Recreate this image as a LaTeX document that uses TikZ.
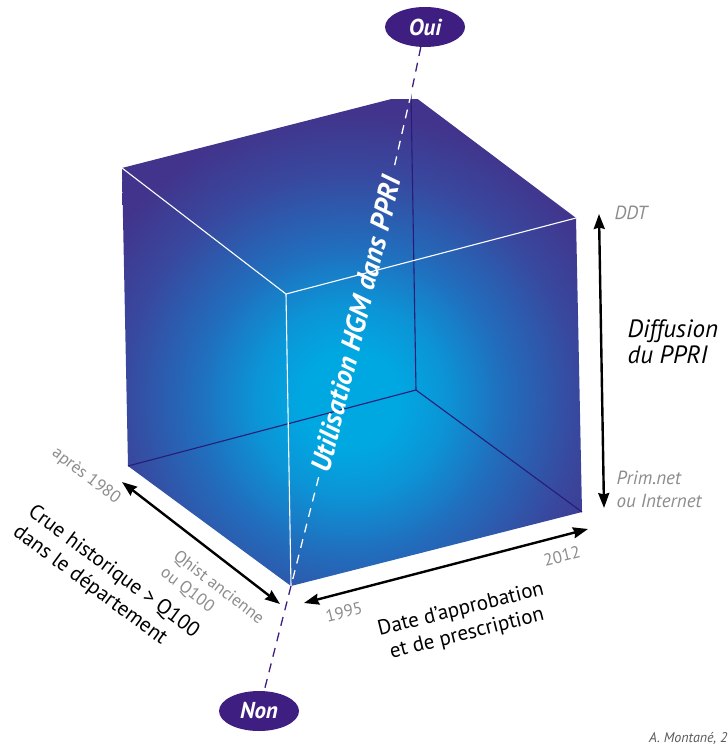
\documentclass[tikz,border=0pt]{standalone}
\usepackage{fontspec}
\setmainfont{PT Sans}
\usetikzlibrary{arrows.meta,shapes.geometric}

\definecolor{glowcore}{RGB}{0,168,226}
\definecolor{glowinner}{RGB}{12,148,214}
\definecolor{glowmid}{RGB}{34,108,188}
\definecolor{glowdeep}{RGB}{56,72,158}
\definecolor{glowedge}{RGB}{66,52,140}
\definecolor{violetaxis}{RGB}{62,30,128}
\definecolor{edgedark}{RGB}{40,28,118}
\definecolor{labelgray}{RGB}{140,140,140}

% the middle 50bp square of the shading covers the shaded path
\pgfdeclareradialshading{cubeglow}{\pgfpoint{0bp}{0bp}}{%
  color(0bp)=(glowcore); color(4bp)=(glowcore); color(8bp)=(glowinner);
  color(13bp)=(glowmid); color(19bp)=(glowdeep); color(24bp)=(glowedge);
  color(50bp)=(glowedge)}

\begin{document}
\begin{tikzpicture}[x=1pt, y=-1pt,
    answer/.style={
      ellipse,
      fill=violetaxis,
      text=white,
      font=\bfseries\itshape\fontsize{23}{23}\selectfont,
      minimum width=80pt,
      minimum height=40pt,
      inner sep=0pt
    },
    axisdash/.style={
      draw=violetaxis,
      line width=1.3pt,
      dash pattern=on 9pt off 7pt
    },
    innerdash/.style={axisdash, draw=white},
    frontedge/.style={draw=white, line width=1.1pt},
    backedge/.style={draw=edgedark, line width=1.1pt},
    spanarrow/.style={
      {Stealth[length=15pt,width=11pt,inset=1.5pt]}-{Stealth[length=15pt,width=11pt,inset=1.5pt]},
      draw=black,
      line width=2.4pt
    },
    axislabel/.style={
      text=white,
      font=\bfseries\itshape\fontsize{28}{28}\selectfont,
      inner sep=6pt
    },
    bound/.style={text=labelgray, font=\fontsize{17}{21}\selectfont},
    bounditalic/.style={text=labelgray, font=\itshape\fontsize{19}{23}\selectfont},
    axistitle/.style={font=\fontsize{21}{25}\selectfont}
  ]
    \useasboundingbox (0,0) rectangle (727,751);

    % cube corners
    \coordinate (A) at (122,168);
    \coordinate (B) at (411,94);
    \coordinate (C) at (576,218);
    \coordinate (D) at (582,512);
    \coordinate (E) at (286,294);
    \coordinate (F) at (416,390);
    \coordinate (G) at (291,586);
    \coordinate (H) at (128,466);

    \begin{scope}
      \clip (A) -- (B) -- (C) -- (D) -- (G) -- (H) -- cycle;
      \shade[shading=cubeglow] (50,100) rectangle (650,700);
    \end{scope}

    \draw[backedge] (B) -- (F) (H) -- (F) -- (D);
    \draw[frontedge] (A) -- (E) -- (C) (E) -- (G);

    \node[answer] (oui) at (425,27) {Oui};
    \node[answer] (non) at (259,711) {Non};
    \node[axislabel, rotate=76.3] (hgm) at (356,324) {Utilisation HGM dans PPRI};

    \draw[axisdash] (oui) -- (B);
    \draw[axisdash] (G) -- (non);
    \draw[innerdash] (B) -- (hgm.east);
    \draw[innerdash] (hgm.west) -- (G);

    % axes
    \coordinate (ddttip) at (599,214);
    \coordinate (primtip) at (604,508);
    \coordinate (y95tip) at (304,603);
    \coordinate (y12tip) at (588,529);
    \coordinate (recenttip) at (122,482);
    \coordinate (oldtip) at (280,604);

    \draw[spanarrow] (ddttip) -- (primtip);
    \draw[spanarrow] (y95tip) -- (y12tip);
    \draw[spanarrow] (recenttip) -- (oldtip);

    \node[bounditalic, anchor=west] (ddt) at (611,213) {DDT};
    \node[axistitle, font=\itshape\fontsize{25}{26}\selectfont, align=left, anchor=west] (diffusion) at (624,342) {Diffusion\\du PPRI};
    \node[bounditalic, align=left, anchor=west] (prim) at (613,489) {Prim.net\\ou Internet};

    \node[bound, rotate=14] (y1995) at (344,612) {1995};
    \node[bound, rotate=14] (y2012) at (562,556) {2012};
    \node[axistitle, rotate=14, align=center] (date) at (464,622) {Date d’approbation\\et de prescription};

    \node[bound, rotate=-37.5] (apres) at (86,476) {après 1980};
    \node[bound, rotate=-37.5, align=left] (qhist) at (212,596) {Qhist ancienne\\ou Q100};
    \node[axistitle, rotate=-36.5, align=left] (crue) at (106,582) {Crue historique > Q100\\dans le département};

    \node[font=\itshape\fontsize{14}{14}\selectfont, text=black!65, anchor=east] (credit) at (731,738) {A. Montané, 2};
  \end{tikzpicture}
\end{document}
